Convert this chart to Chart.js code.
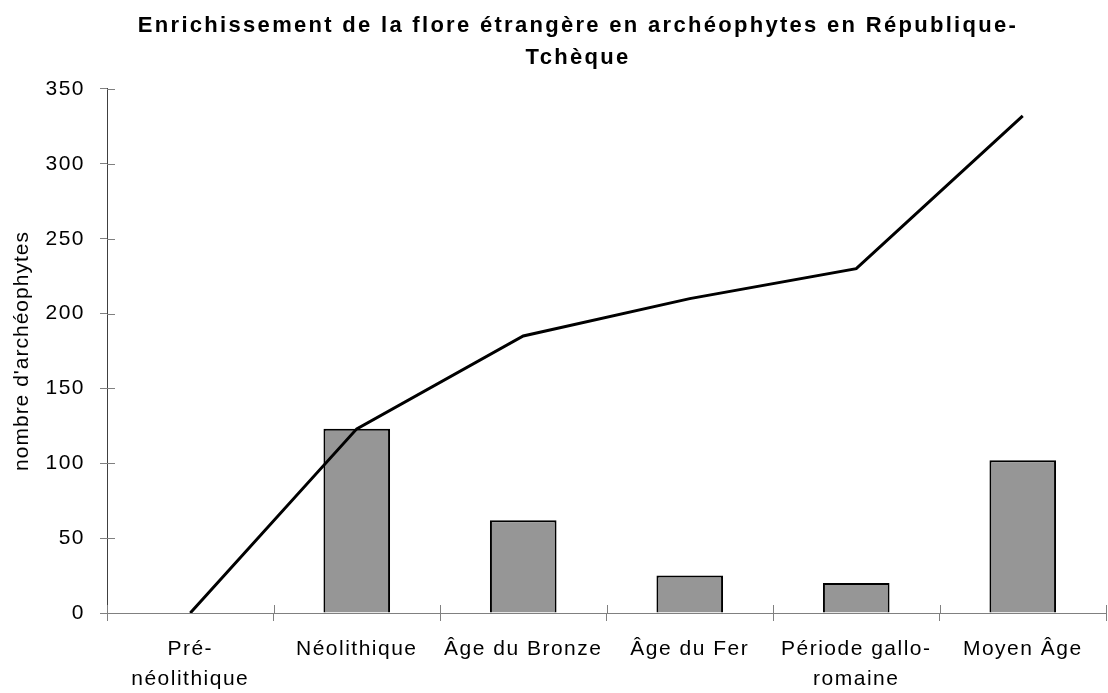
<!DOCTYPE html>
<html>
<head>
<meta charset="utf-8">
<script src="https://cdn.jsdelivr.net/npm/chart.js@4/dist/chart.umd.min.js"></script>
<style>
html,body{margin:0;padding:0;background:#fff;}
#wrap{width:1108px;height:693px;}
</style>
</head>
<body>
<div id="wrap"><canvas id="c" width="1108" height="693"></canvas></div>
<script>
const categories = [["Pré-","néolithique"], "Néolithique", "Âge du Bronze", "Âge du Fer", ["Période gallo-","romaine"], "Moyen Âge"];
const newArcheophytes = [0, 123, 62, 25, 20, 102];
const cumulativeArcheophytes = [0, 123, 185, 210, 230, 332];
const yTicks = [0, 50, 100, 150, 200, 250, 300, 350];
const titleLines = ["Enrichissement de la flore étrangère en archéophytes en République-", "Tchèque"];
const yLabel = "nombre d'archéophytes";

const FONT = "'Liberation Sans', Arial, sans-serif";
const SPACING = '1.5px';
const YTITLE_SPACING = '1px';
const TITLE_SPACING = '2.3px';
const TITLE_SHIFT = 25;

function patchDraw(obj, chart, spacing, shift){
  if (!obj || obj._patched) return;
  const orig = obj.draw;
  obj.draw = function(){
    const ctx = chart.ctx;
    ctx.save();
    ctx.letterSpacing = spacing;
    if (shift) ctx.translate(shift, 0);
    orig.apply(this, arguments);
    ctx.restore();
  };
  obj._patched = true;
}

const spacingPlugin = {
  id: 'spacing',
  beforeLayout(chart){ chart.ctx.letterSpacing = SPACING; },
  afterLayout(chart){
    patchDraw(chart.titleBlock, chart, TITLE_SPACING, TITLE_SHIFT);
    const y = chart.scales.y;
    if (y && !y._titlePatched) {
      const origTitle = y.drawTitle;
      y.drawTitle = function(){
        const ctx = chart.ctx;
        ctx.save();
        ctx.letterSpacing = YTITLE_SPACING;
        origTitle.apply(this, arguments);
        ctx.restore();
      };
      y._titlePatched = true;
    }
  },
  beforeDraw(chart){ chart.ctx.letterSpacing = SPACING; }
};

const innerTicks = {
  id: 'innerTicks',
  afterDatasetsDraw(chart){
    const ctx = chart.ctx, x = chart.scales.x, y = chart.scales.y;
    ctx.save();
    ctx.strokeStyle = '#808080';
    ctx.lineWidth = 1;
    ctx.beginPath();
    yTicks.forEach(v => {
      const py = Math.round(y.getPixelForValue(v)) + 0.5;
      ctx.moveTo(x.left, py); ctx.lineTo(x.left + 8, py);
    });
    for (let i = 0; i <= categories.length; i++) {
      const px = Math.round(x.getPixelForValue(i - 0.5)) + 0.5;
      ctx.moveTo(px, y.bottom); ctx.lineTo(px, y.bottom - 8);
    }
    ctx.stroke();
    ctx.restore();
  }
};

new Chart(document.getElementById('c'), {
  data: {
    labels: categories,
    datasets: [
      {
        type: 'line',
        data: cumulativeArcheophytes,
        borderColor: '#000000',
        borderWidth: 3,
        pointRadius: 0,
        tension: 0,
        fill: false,
        order: 0
      },
      {
        type: 'bar',
        data: newArcheophytes,
        backgroundColor: '#969696',
        borderColor: '#000000',
        borderWidth: 2,
        barPercentage: 0.4,
        categoryPercentage: 1,
        order: 1
      }
    ]
  },
  options: {
    responsive: false,
    animation: false,
    devicePixelRatio: 1,
    layout: { padding: { left: 0, right: 2, top: 0, bottom: 0 } },
    plugins: {
      legend: { display: false },
      tooltip: { enabled: false },
      title: {
        display: true,
        text: titleLines,
        color: '#000',
        font: { family: FONT, size: 22, weight: 'bold', lineHeight: 1.4545 },
        padding: { top: 10, bottom: 15 }
      }
    },
    scales: {
      x: {
        offset: true,
        grid: { offset: true, drawOnChartArea: false, tickLength: 8, color: '#808080', lineWidth: 1 },
        border: { color: '#808080', width: 1 },
        ticks: { color: '#000', font: { family: FONT, size: 21, lineHeight: 1.45 }, maxRotation: 0, autoSkip: false, padding: 13 },
        afterFit(s){ s.height = 80; }
      },
      y: {
        min: 0, max: 350,
        afterBuildTicks(s){ s.ticks = yTicks.map(v => ({ value: v })); },
        grid: { drawOnChartArea: false, tickLength: 7, color: '#808080', lineWidth: 1 },
        border: { color: '#404040', width: 1 },
        ticks: { color: '#000', font: { family: FONT, size: 21 }, padding: 15 },
        title: { display: true, text: yLabel, color: '#000', font: { family: FONT, size: 21 }, padding: { top: 10, bottom: 0 } },
        afterFit(s){ s.width = 107; }
      }
    }
  },
  plugins: [spacingPlugin, innerTicks]
});
</script>
</body>
</html>
